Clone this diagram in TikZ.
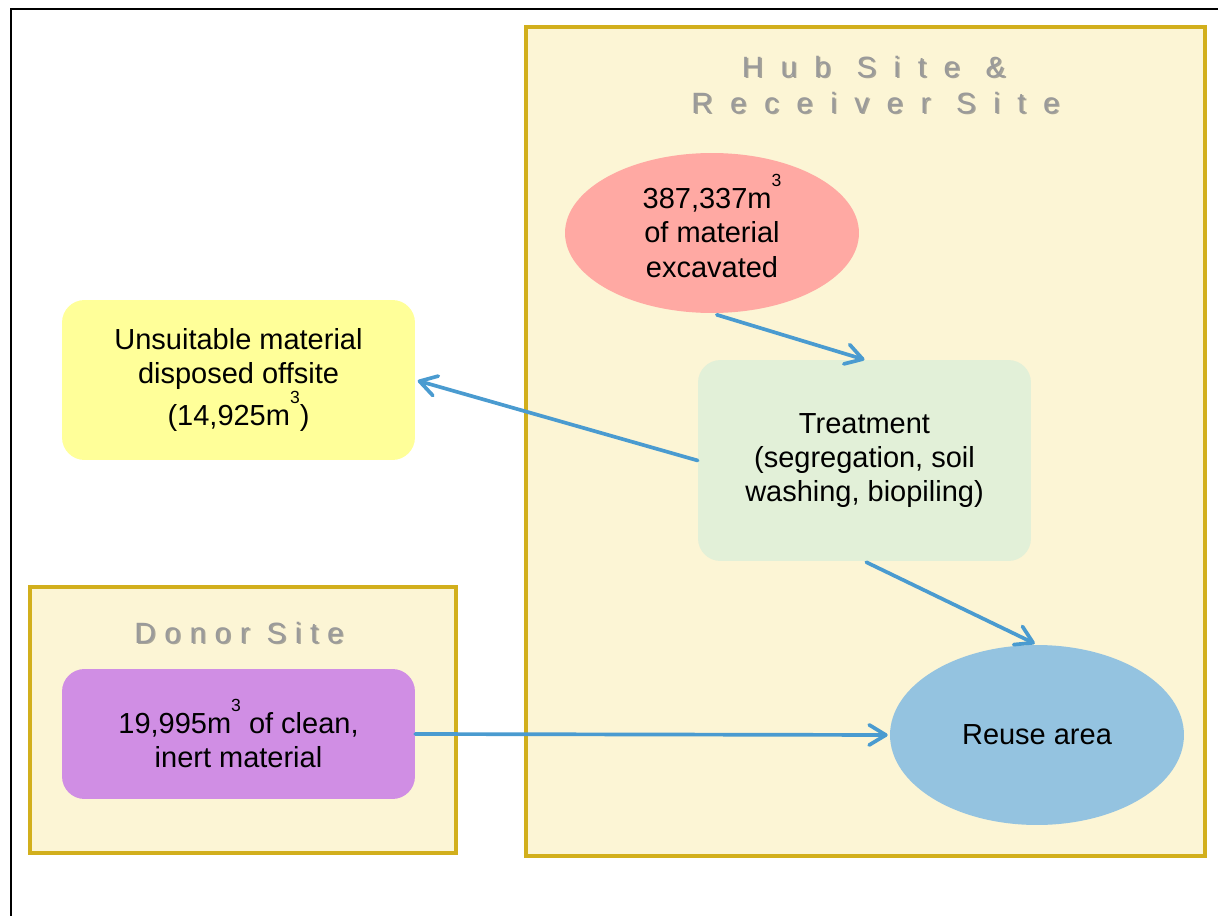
\documentclass[tikz,border=0pt]{standalone}
\usepackage{fontspec}
\setmainfont{Liberation Sans}
\newfontfamily\hubfont[LetterSpace=60]{Liberation Sans}
\newfontfamily\donorfont[LetterSpace=30]{Liberation Sans}
\usetikzlibrary{arrows.meta,shapes.geometric}

\definecolor{sitefill}{HTML}{FCF5D5}
\definecolor{sitedraw}{HTML}{D2AF1C}
\definecolor{unsuit}{HTML}{FFFF99}
\definecolor{excav}{HTML}{FFA9A3}
\definecolor{treat}{HTML}{E2F0D8}
\definecolor{reuse}{HTML}{94C3E0}
\definecolor{donor}{HTML}{D08EE4}
\definecolor{flowc}{HTML}{4A9BD0}
\definecolor{titlec}{HTML}{9A9A9A}
\definecolor{titleshade}{HTML}{707070}

\newcommand{\cubed}{\raisebox{0.75em}{\fontsize{10}{10}\selectfont 3}}
\newcommand{\flatcubed}{\smash{\cubed}}

\tikzset{
  body/.style={font=\fontsize{16.5}{19.5}\selectfont, align=center, text=black},
  site/.style={draw=sitedraw, fill=sitefill, line width=2.3pt, rectangle, inner sep=0pt},
  roundbox/.style={body, rectangle, rounded corners=0.45cm, inner sep=0pt},
  blob/.style={body, ellipse, inner sep=0pt},
  titlebase/.style={inner sep=0pt},
  hubtitle/.style={titlebase, font=\hubfont\fontsize{16.7}{20.5}\selectfont},
  donortitle/.style={titlebase, font=\donorfont\fontsize{16.7}{20.5}\selectfont},
  shade/.style={text=titleshade, opacity=0.6},
  lettering/.style={text=titlec},
  flow/.style={draw=flowc, line width=2.1pt, line cap=round,
    -{Straight Barb[length=9.5pt, width=11.5pt, line cap=round, line join=round]}}
}

\begin{document}
\begin{tikzpicture}[x=0.02cm, y=-0.02cm]
\useasboundingbox (0,0) rectangle (1218,916);

% outer frame, running off the page at right and bottom
\coordinate (frameTR) at (1218,9);
\coordinate (frameTL) at (11,9);
\coordinate (frameBL) at (11,916);
\draw[line width=1.3pt, black] (frameTR) -- (frameTL) -- (frameBL);

% site areas
\node[site, minimum width=13.58cm, minimum height=16.58cm] (hub) at (865.5,441.5) {};
\node[site, minimum width=8.52cm, minimum height=5.32cm] (donorsite) at (243,720) {};

% site titles with a soft shade
\node[hubtitle, shade] (hubshadeA) at (875,68.5) {Hub Site \&};
\node[hubtitle, shade] (hubshadeB) at (877,104.5) {Receiver Site};
\node[hubtitle, lettering] (hubtitleA) at (873.5,67) {Hub Site \&};
\node[hubtitle, lettering] (hubtitleB) at (875.5,103) {Receiver Site};
\node[donortitle, shade] (donorshade) at (240.5,634.5) {Donor Site};
\node[donortitle, lettering] (donortitle) at (239,633) {Donor Site};

% process nodes
\node[blob, fill=excav, minimum width=5.88cm, minimum height=3.2cm] (excavated) at (712,233)
  {387,337m\flatcubed\\of material\\excavated};
\node[roundbox, fill=treat, minimum width=6.66cm, minimum height=4.02cm] (treatment) at (864.5,460.5)
  {Treatment\\(segregation, soil\\washing, biopiling)};
\node[roundbox, fill=unsuit, minimum width=7.06cm, minimum height=3.2cm] (unsuitable) at (238.5,380)
  {Unsuitable material\\disposed offsite\\(14,925m\cubed)};
\node[roundbox, fill=donor, minimum width=7.06cm, minimum height=2.6cm] (clean) at (238.5,734)
  {19,995m\cubed{} of clean,\\inert material};
\node[blob, fill=reuse, minimum width=5.88cm, minimum height=3.6cm] (reusearea) at (1037,735)
  {Reuse area};

% material flows
\draw[flow, shorten <=0.1cm] (excavated.south) -- (treatment.north);
\draw[flow, shorten >=0.05cm] (treatment.west) -- (unsuitable.east);
\draw[flow, shorten <=0.04cm, shorten >=0.05cm] (treatment.south) -- (reusearea.north);
\draw[flow, shorten >=0.04cm] (clean.east) -- (reusearea.west);
\end{tikzpicture}
\end{document}
